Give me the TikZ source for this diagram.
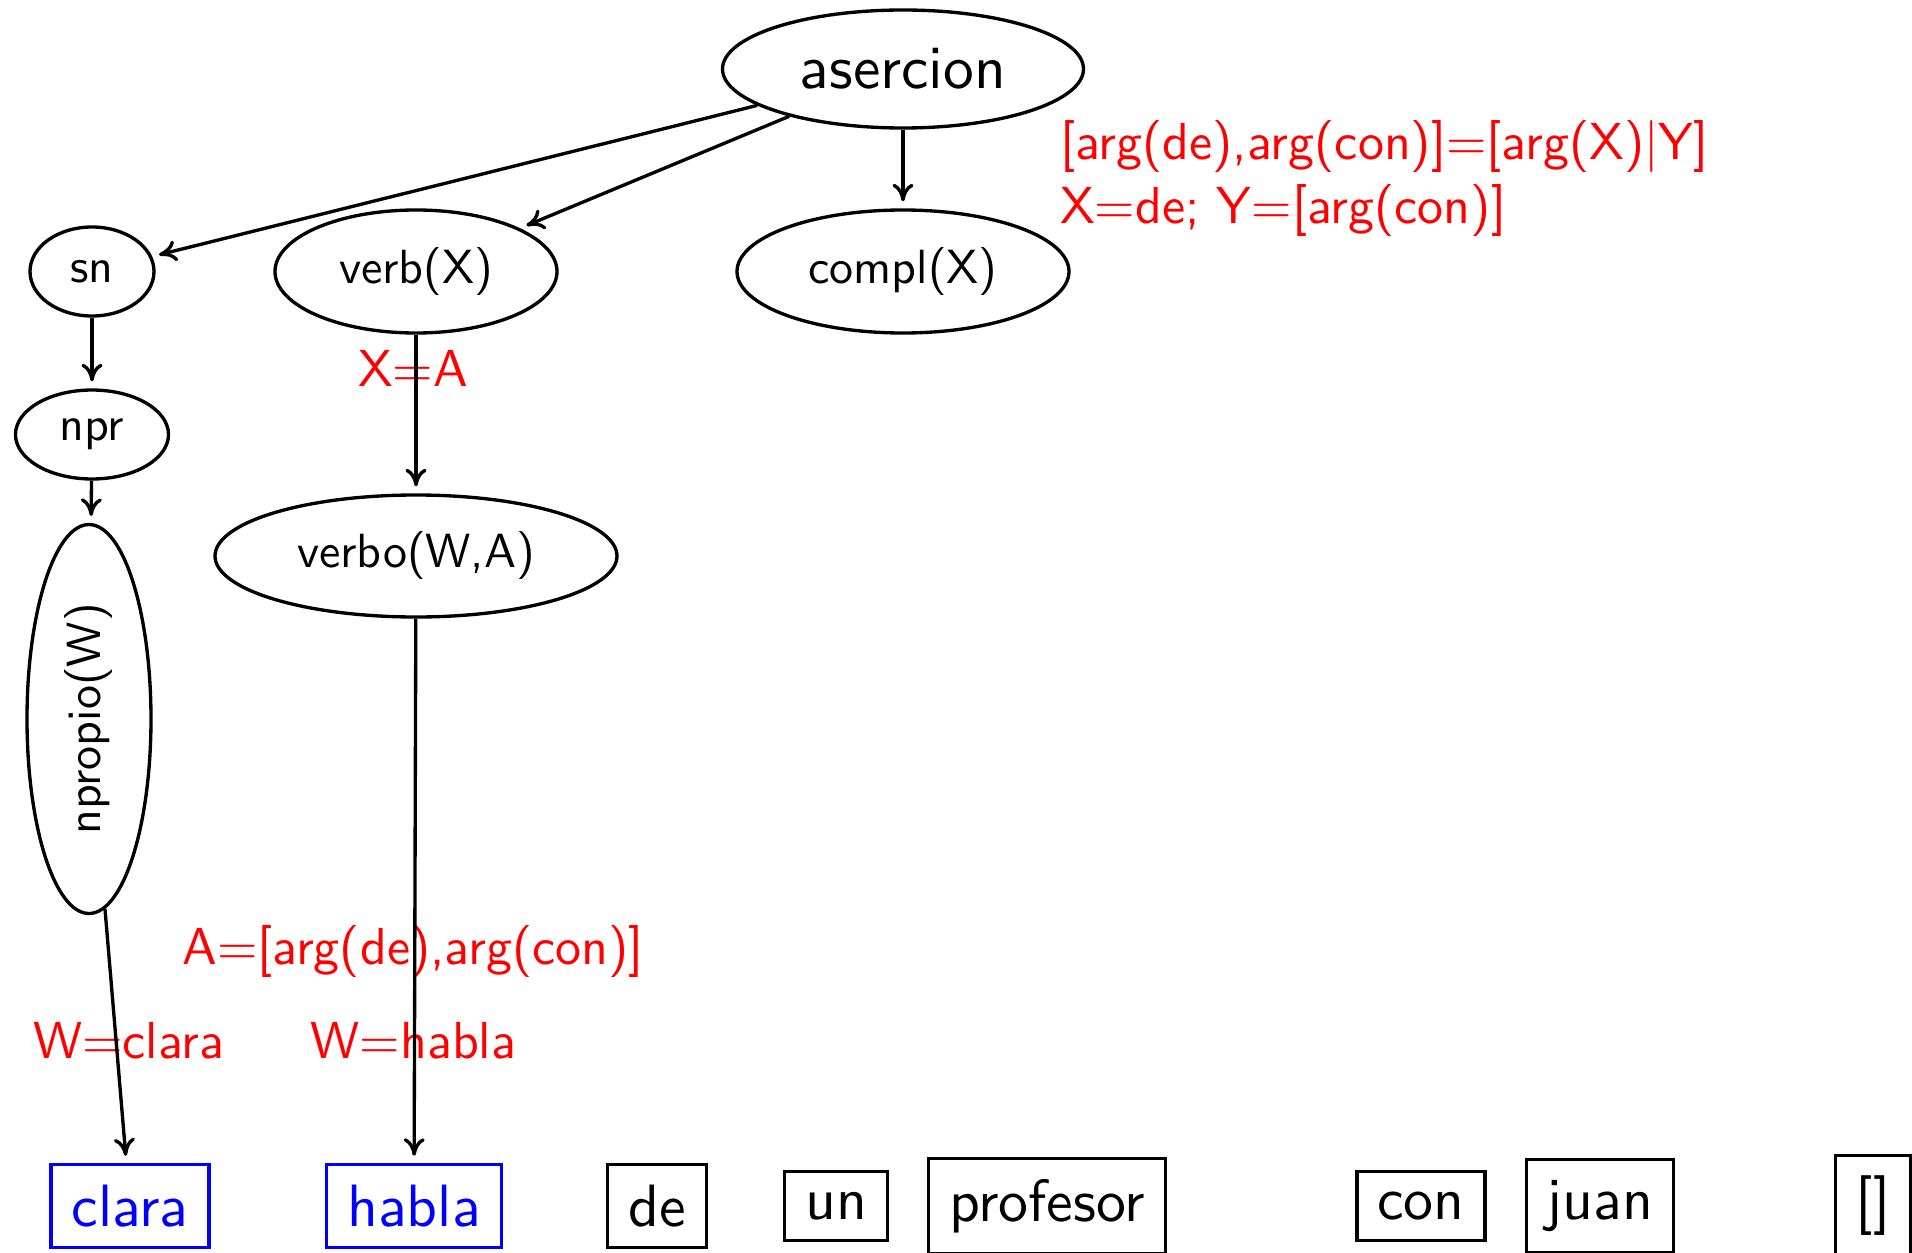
\documentclass[tikz,border=0pt]{standalone}
\usepackage{fontspec}
\setsansfont{lmsans10-regular.otf}
\usepackage{tikz}
\usetikzlibrary{positioning,arrows.meta,shapes.geometric}

\begin{document}
\begin{tikzpicture}[font=\sffamily, line width=1.9pt, >={To[length=10pt,width=12pt]}]
    \tikzstyle{tree}=[draw, ellipse, inner sep=0pt, font=\sffamily\fontsize{27.3}{33}\selectfont, on grid]
    \tikzstyle{word}=[draw, rectangle, inner sep=0.41cm, font=\sffamily\fontsize{34}{40}\selectfont, on grid]
    \tikzstyle{unif}=[red, anchor=base, font=\sffamily\fontsize{29.6}{36}\selectfont]
    \tikzstyle{link}=[->, shorten >=4pt]
    \useasboundingbox (0,0) rectangle (38.24,-25.06);

    % arbol
    \node[tree, minimum width=7.22cm, minimum height=2.36cm, font=\sffamily\fontsize{35}{42}\selectfont] (asercion) at (18.06,-1.38) {asercion};
    \node[tree, minimum width=6.64cm, minimum height=2.46cm, below=4.05cm of asercion] (compl) {compl(X)};
    \node[tree, minimum width=5.64cm, minimum height=2.46cm, left=9.74cm of compl] (verb) {verb(X)};
    \node[tree, minimum width=2.48cm, minimum height=1.78cm, left=6.48cm of verb] (sn) {sn};
    \node[tree, minimum width=3.06cm, minimum height=1.78cm, below=3.26cm of sn] (npr) {npr};
    \node[tree, minimum width=7.78cm, minimum height=2.48cm, rotate=90] (npropio) at (1.78,-14.38) {npropio(W)};
    \node[tree, minimum width=8.04cm, minimum height=2.44cm, below=5.69cm of verb] (verbo) {verbo(W,A)};

    % frase
    \node[word, blue] (clara) at (2.6,-24.12) {clara};
    \node[word, blue, right=5.68cm of clara] (habla) {habla};
    \node[word, right=4.86cm of habla] (de) {de};
    \node[word, right=3.58cm of de] (un) {un};
    \node[word, right=4.22cm of un] (profesor) {profesor};
    \node[word, right=7.48cm of profesor] (con) {con};
    \node[word, right=3.58cm of con] (juan) {juan};
    \node[word, right=5.46cm of juan] (nil) {[]};

    % unificaciones
    \node[unif, anchor=base west] (u1) at (21.05,-3.2) {[arg(de),arg(con)]=[arg(X)|Y]};
    \node[unif, anchor=base west] (u2) at (21.05,-4.48) {X=de; Y=[arg(con)]};
    \node[unif] (u3) at (8.26,-7.72) {X=A};
    \node[unif] (u4) at (8.26,-19.28) {A=[arg(de),arg(con)]};
    \node[unif] (u5) at (2.58,-21.16) {W=clara};
    \node[unif] (u6) at (8.27,-21.16) {W=habla};

    \draw[link] (asercion) -- (sn);
    \draw[link] (asercion) -- (verb);
    \draw[link] (asercion) -- (compl);
    \draw[link] (sn) -- (npr);
    \draw[link] (npr) -- (npropio);
    \draw[link] (verb) -- (verbo);
    \draw[link] (npropio) -- (clara);
    \draw[link] (verbo) -- (habla);
\end{tikzpicture}
\end{document}
